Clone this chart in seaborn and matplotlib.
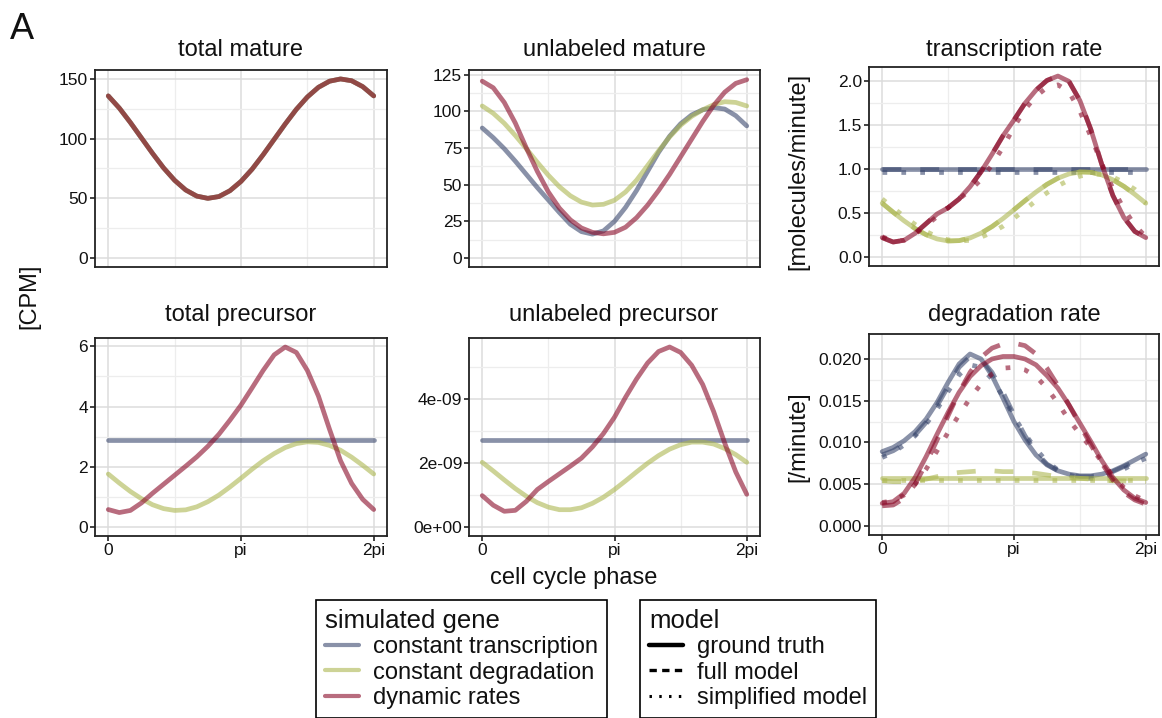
import numpy as np
import pandas as pd
import matplotlib
matplotlib.use("Agg")
import matplotlib.pyplot as plt
import seaborn as sns
from matplotlib.lines import Line2D

# ---------------- data ----------------
phase = np.linspace(0, 2 * np.pi, 25)   # sampling grid, every pi/12

genes = ["constant transcription", "constant degradation", "dynamic rates"]
models = ["ground truth", "full model", "simplified model"]

# total mature (identical for all three genes)
total_mature = [135.8, 125.6, 113.5, 100.6, 87.7, 75.5, 65.1, 57.0, 51.9, 50.0,
                51.5, 56.4, 64.2, 74.4, 86.5, 99.4, 112.3, 124.5, 134.9, 143.0,
                148.1, 150.0, 148.5, 143.6, 135.8]

# unlabeled mature
unl_mature_ct = [88.6, 82, 74.5, 66, 57, 48, 39.5, 31, 23, 18, 16.3, 18.5, 25,
                 34.5, 46, 59, 72, 83, 91.5, 97.5, 101, 102.5, 101.5, 97, 90]
unl_mature_cd = [103.6, 98.6, 91.8, 83.5, 74.5, 65.2, 56.4, 48.6, 42.4, 38.1,
                 36.1, 36.6, 39.4, 45, 53, 63, 73, 82.5, 90.5, 96.5, 101,
                 104.5, 106.5, 106, 103.6]
unl_mature_dr = [120.5, 116, 106, 92, 75, 59, 45, 34, 26, 20.5, 17.5, 16.5,
                 17.5, 21, 27.5, 36, 46, 57, 69, 81, 93, 104, 113, 119, 121.5]

# total precursor
tot_prec_ct = [2.90] * 25
tot_prec_cd = [1.76, 1.46, 1.18, 0.94, 0.74, 0.61, 0.55, 0.57, 0.67, 0.84,
               1.06, 1.33, 1.62, 1.92, 2.20, 2.44, 2.64, 2.77, 2.83, 2.81,
               2.71, 2.55, 2.32, 2.05, 1.76]
tot_prec_dr = [0.58, 0.48, 0.55, 0.80, 1.12, 1.42, 1.72, 2.02, 2.33, 2.68,
               3.08, 3.55, 4.05, 4.62, 5.2, 5.72, 5.98, 5.8, 5.2, 4.35, 3.25,
               2.2, 1.45, 0.92, 0.58]

# unlabeled precursor (in units of 1e-9)
unl_prec_ct = np.array([2.72] * 25) * 1e-9
unl_prec_cd = np.array([2.02, 1.75, 1.47, 1.20, 0.96, 0.76, 0.62, 0.54, 0.54,
                        0.60, 0.74, 0.93, 1.17, 1.44, 1.72, 1.99, 2.23, 2.43,
                        2.57, 2.65, 2.65, 2.59, 2.45, 2.26, 2.02]) * 1e-9
unl_prec_dr = np.array([0.98, 0.68, 0.49, 0.52, 0.8, 1.17, 1.42, 1.66, 1.9,
                        2.15, 2.5, 2.92, 3.43, 4.05, 4.62, 5.12, 5.48, 5.62,
                        5.45, 5.05, 4.45, 3.6, 2.62, 1.72, 1.02]) * 1e-9

# transcription rate: ground truth / full model / simplified model
tx_ct_true = [1.0] * 25
tx_ct_full = [1.0] * 25
tx_ct_simp = [0.97] * 25
tx_cd_true = [0.612, 0.509, 0.411, 0.323, 0.253, 0.205, 0.182, 0.186, 0.216,
              0.271, 0.346, 0.437, 0.538, 0.641, 0.739, 0.827, 0.897, 0.945,
              0.968, 0.964, 0.934, 0.879, 0.804, 0.713, 0.612]
tx_cd_full = tx_cd_true
tx_cd_simp = [0.66, 0.56, 0.46, 0.37, 0.29, 0.23, 0.195, 0.18, 0.19, 0.225,
              0.28, 0.35, 0.44, 0.54, 0.64, 0.73, 0.81, 0.875, 0.92, 0.945,
              0.94, 0.91, 0.85, 0.77, 0.66]
tx_dr_true = [0.22, 0.17, 0.19, 0.27, 0.38, 0.49, 0.56, 0.66, 0.8, 0.97, 1.17,
              1.38, 1.56, 1.75, 1.9, 2.01, 2.06, 2.0, 1.78, 1.45, 1.05, 0.7,
              0.45, 0.29, 0.22]
tx_dr_full = tx_dr_true
tx_dr_simp = [0.23, 0.18, 0.19, 0.26, 0.36, 0.46, 0.56, 0.66, 0.76, 0.88,
              1.05, 1.25, 1.48, 1.68, 1.83, 1.93, 1.96, 1.88, 1.66, 1.37,
              1.06, 0.78, 0.55, 0.36, 0.23]

# degradation rate
dg_ct_true = [0.0089, 0.0094, 0.0102, 0.0113, 0.0128, 0.0148, 0.0172, 0.0194,
              0.0206, 0.0200, 0.0180, 0.0153, 0.0125, 0.0103, 0.0085, 0.0073,
              0.0066, 0.0062, 0.0060, 0.0060, 0.0062, 0.0066, 0.0072, 0.0079,
              0.0086]
dg_ct_full = [0.0085, 0.0090, 0.0098, 0.0109, 0.0124, 0.0144, 0.0167, 0.0190,
              0.0203, 0.0200, 0.0184, 0.0160, 0.0133, 0.0108, 0.0088, 0.0074,
              0.0066, 0.0061, 0.0059, 0.0059, 0.0061, 0.0065, 0.0071, 0.0077,
              0.0084]
dg_ct_simp = [0.0082, 0.0088, 0.0097, 0.0108, 0.0122, 0.0140, 0.0161, 0.0181,
              0.0193, 0.0190, 0.0176, 0.0155, 0.0131, 0.0110, 0.0092, 0.0077,
              0.0067, 0.0061, 0.0058, 0.0057, 0.0058, 0.0062, 0.0068, 0.0075,
              0.0081]
dg_cd_true = [0.0057] * 25
dg_cd_full = [0.0054, 0.0053, 0.0053, 0.0054, 0.0056, 0.0059, 0.0062, 0.0064,
              0.0065, 0.0066, 0.0066, 0.0065, 0.0065, 0.0064, 0.0063, 0.0061,
              0.0059, 0.0058, 0.0057, 0.0056, 0.0055, 0.0054, 0.0054, 0.0053,
              0.0053]
dg_cd_simp = [0.0055] * 25
dg_dr_true = [0.0027, 0.0029, 0.0039, 0.0058, 0.0083, 0.0110, 0.0136, 0.0160,
              0.0179, 0.0192, 0.0200, 0.0203, 0.0203, 0.0200, 0.0193, 0.0180,
              0.0165, 0.0145, 0.0123, 0.0101, 0.0078, 0.0058, 0.0043, 0.0033,
              0.0028]
dg_dr_full = [0.0024, 0.0025, 0.0033, 0.0050, 0.0075, 0.0103, 0.0132, 0.0160,
              0.0184, 0.0202, 0.0213, 0.0218, 0.0219, 0.0216, 0.0206, 0.0189,
              0.0168, 0.0145, 0.0121, 0.0097, 0.0075, 0.0055, 0.0040, 0.0031,
              0.0026]
dg_dr_simp = [0.0028, 0.0030, 0.0037, 0.0050, 0.0068, 0.0090, 0.0112, 0.0133,
              0.0153, 0.0170, 0.0182, 0.0189, 0.0190, 0.0187, 0.0179, 0.0165,
              0.0147, 0.0127, 0.0110, 0.0094, 0.0077, 0.0060, 0.0046, 0.0036,
              0.0030]

x_tick_labels = ["0", "pi", "2pi"]

# ---------------- styling ----------------
sns.set_theme(style="white")
plt.rcParams["font.family"] = ["Liberation Sans", "DejaVu Sans"]

COL = {"constant transcription": "#3a486e",
       "constant degradation": "#acb750",
       "dynamic rates": "#8a0a28"}
STY = {"ground truth": "-",
       "full model": (0, (4, 4)),
       "simplified model": (0, (1, 3))}
ALPHA = 0.6
LW = 3.4
TXT = "#111111"
TICK_FS = 12.5

W, H = 1162, 718
fig = plt.figure(figsize=(W / 100, H / 100), dpi=100)


def add_ax(l, t, r, b):
    return fig.add_axes([l / W, 1 - b / H, (r - l) / W, (b - t) / H])


def style_ax(ax, yticks, ylabels, yminor, bottom_row, ymax):
    ax.set_xlim(-0.05 * 2 * np.pi, 2 * np.pi * 1.05)
    ax.set_ylim(-0.05 * ymax, ymax * 1.05)
    ax.set_xticks([0, np.pi, 2 * np.pi])
    ax.set_xticks([np.pi / 2, 3 * np.pi / 2], minor=True)
    ax.set_yticks(yticks)
    ax.set_yticklabels(ylabels)
    ax.set_yticks(yminor, minor=True)
    ax.grid(True, which="major", color="#dcdcdc", lw=1.1)
    ax.grid(True, which="minor", color="#ededed", lw=0.9)
    ax.set_axisbelow(True)
    for s in ax.spines.values():
        s.set_visible(True)
        s.set_color("#222222")
        s.set_linewidth(1.3)
    ax.tick_params(axis="both", which="minor", length=0)
    ax.tick_params(axis="y", which="major", length=3.5, width=1.2,
                   color="#222222", labelsize=TICK_FS, labelcolor=TXT,
                   pad=1.5, left=True)
    if bottom_row:
        ax.set_xticklabels(x_tick_labels)
        ax.tick_params(axis="x", which="major", length=3.5, width=1.2,
                       color="#222222", labelsize=TICK_FS, labelcolor=TXT,
                       pad=1.5, bottom=True)
    else:
        ax.tick_params(axis="x", which="major", length=0, labelbottom=False)
    ax.set_xlabel("")
    ax.set_ylabel("")


def draw(ax, y, gene, model="ground truth"):
    sns.lineplot(x=phase, y=np.asarray(y), ax=ax, color=COL[gene], lw=LW,
                 alpha=ALPHA, linestyle=STY[model], estimator=None,
                 sort=False, legend=False)


# panel 1: total mature
ax1 = add_ax(95, 70, 387, 267)
for g in genes:
    draw(ax1, total_mature, g)
style_ax(ax1, [0, 50, 100, 150], ["0", "50", "100", "150"], [25, 75, 125],
         False, 150)

# panel 2: unlabeled mature
ax2 = add_ax(469, 70, 760, 267)
for g, y in zip(genes, [unl_mature_ct, unl_mature_cd, unl_mature_dr]):
    draw(ax2, y, g)
style_ax(ax2, [0, 25, 50, 75, 100, 125], ["0", "25", "50", "75", "100", "125"],
         [12.5, 37.5, 62.5, 87.5, 112.5], False, 122)

# panel 3: transcription rate
ax3 = add_ax(869, 67, 1159, 266)
tx = {genes[0]: [tx_ct_true, tx_ct_full, tx_ct_simp],
      genes[1]: [tx_cd_true, tx_cd_full, tx_cd_simp],
      genes[2]: [tx_dr_true, tx_dr_full, tx_dr_simp]}
for g in genes:
    for m, y in zip(models, tx[g]):
        draw(ax3, y, g, m)
style_ax(ax3, [0, 0.5, 1.0, 1.5, 2.0], ["0.0", "0.5", "1.0", "1.5", "2.0"],
         [0.25, 0.75, 1.25, 1.75], False, 2.06)

# panel 4: total precursor
ax4 = add_ax(95, 338, 387, 536)
for g, y in zip(genes, [tot_prec_ct, tot_prec_cd, tot_prec_dr]):
    draw(ax4, y, g)
style_ax(ax4, [0, 2, 4, 6], ["0", "2", "4", "6"], [1, 3, 5], True, 5.98)

# panel 5: unlabeled precursor
ax5 = add_ax(469, 338, 760, 536)
for g, y in zip(genes, [unl_prec_ct, unl_prec_cd, unl_prec_dr]):
    draw(ax5, y, g)
style_ax(ax5, [0, 2e-9, 4e-9], ["0e+00", "2e-09", "4e-09"],
         [1e-9, 3e-9, 5e-9], True, 5.62e-9)

# panel 6: degradation rate
ax6 = add_ax(869, 334, 1159, 535)
dg = {genes[0]: [dg_ct_true, dg_ct_full, dg_ct_simp],
      genes[1]: [dg_cd_true, dg_cd_full, dg_cd_simp],
      genes[2]: [dg_dr_true, dg_dr_full, dg_dr_simp]}
for g in genes:
    for m, y in zip(models, dg[g]):
        draw(ax6, y, g, m)
style_ax(ax6, [0, 0.005, 0.010, 0.015, 0.020],
         ["0.000", "0.005", "0.010", "0.015", "0.020"],
         [0.0025, 0.0075, 0.0125, 0.0175], True, 0.0219)


# ---------------- texts ----------------
def ftext(px, py, s, **kw):
    fig.text(px / W, 1 - py / H, s, color=TXT, **kw)


ftext(10, 39, "A", fontsize=26, ha="left", va="baseline")
ftext(241, 56, "total mature", fontsize=17, ha="center", va="baseline")
ftext(614, 56, "unlabeled mature", fontsize=17, ha="center", va="baseline")
ftext(1014, 56, "transcription rate", fontsize=17, ha="center", va="baseline")
ftext(241, 321, "total precursor", fontsize=17, ha="center", va="baseline")
ftext(614, 321, "unlabeled precursor", fontsize=17, ha="center", va="baseline")
ftext(1014, 321, "degradation rate", fontsize=17, ha="center", va="baseline")
ftext(29, 296, "[CPM]", fontsize=17, ha="center", va="center", rotation=90)
ftext(798, 171, "[molecules/minute]", fontsize=17, ha="center", va="center",
      rotation=90)
ftext(798, 437, "[/minute]", fontsize=17, ha="center", va="center",
      rotation=90)
ftext(574, 578, "cell cycle phase", fontsize=17, ha="center", va="center")

# ---------------- legends ----------------
LEG_KW = dict(loc="upper left", frameon=True, fancybox=False,
              edgecolor="black", fontsize=17, title_fontsize=18.5,
              alignment="left", borderpad=0.38, handlelength=1.45,
              handletextpad=0.6, labelspacing=0.14, borderaxespad=0,
              framealpha=1)
gene_handles = [Line2D([], [], color=COL[g], lw=3.0, alpha=ALPHA) for g in genes]
leg1 = fig.legend(handles=gene_handles, labels=genes, title="simulated gene",
                  bbox_to_anchor=(316 / W, 1 - 600 / H), **LEG_KW)
leg1.get_frame().set_linewidth(1.2)

model_handles = [Line2D([], [], color="black", lw=3.2, linestyle="-"),
                 Line2D([], [], color="black", lw=2.4, linestyle=(0, (2.2, 1.6))),
                 Line2D([], [], color="black", lw=2.2, linestyle=(0, (0.8, 2.4)))]
leg2 = fig.legend(handles=model_handles, labels=models, title="model",
                  bbox_to_anchor=(640 / W, 1 - 600 / H), **LEG_KW)
leg2.get_frame().set_linewidth(1.2)
for t in leg1.get_texts() + leg2.get_texts():
    t.set_color(TXT)
leg1.get_title().set_color(TXT)
leg2.get_title().set_color(TXT)

fig.savefig("out.png", dpi=100)
